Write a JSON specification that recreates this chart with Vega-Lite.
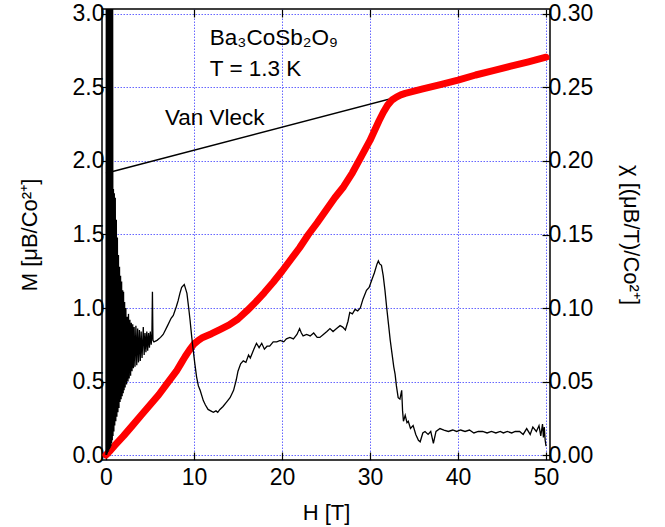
{
  "$schema": "https://vega.github.io/schema/vega-lite/v6.json",
  "width": 448,
  "height": 451,
  "autosize": "none",
  "padding": {"left": 102, "top": 9, "right": 115, "bottom": 67},
  "background": "white",
  "config": {
    "font": "Liberation Sans",
    "view": {"stroke": "black", "strokeWidth": 1.5},
    "axis": {
      "labelFont": "Liberation Sans",
      "labelFontSize": 23,
      "labelColor": "black",
      "titleFont": "Liberation Sans",
      "titleFontSize": 22,
      "titleFontWeight": "normal",
      "titleColor": "black",
      "tickColor": "black",
      "tickWidth": 1.2,
      "domain": false,
      "gridColor": "#6666ff",
      "gridDash": [1.5, 1.5],
      "gridWidth": 1,
      "gridOpacity": 1
    }
  },
  "datasets": {
    "mag": [
      {"H": 0, "M": 0}, {"H": 0.5, "M": 0.03}, {"H": 1, "M": 0.065}, {"H": 2, "M": 0.13},
      {"H": 3, "M": 0.2}, {"H": 4, "M": 0.27}, {"H": 5, "M": 0.34}, {"H": 6, "M": 0.41},
      {"H": 7, "M": 0.49}, {"H": 8, "M": 0.57}, {"H": 8.5, "M": 0.62}, {"H": 9, "M": 0.67},
      {"H": 9.5, "M": 0.715}, {"H": 10, "M": 0.755}, {"H": 10.5, "M": 0.78}, {"H": 11, "M": 0.8},
      {"H": 12, "M": 0.825}, {"H": 13, "M": 0.855}, {"H": 14, "M": 0.885}, {"H": 15, "M": 0.925},
      {"H": 16, "M": 0.98}, {"H": 17, "M": 1.04}, {"H": 18, "M": 1.105}, {"H": 19, "M": 1.175},
      {"H": 20, "M": 1.25}, {"H": 21, "M": 1.33}, {"H": 22, "M": 1.41}, {"H": 23, "M": 1.5},
      {"H": 24, "M": 1.58}, {"H": 25, "M": 1.665}, {"H": 26, "M": 1.75}, {"H": 27, "M": 1.825},
      {"H": 28, "M": 1.92}, {"H": 29, "M": 2.03}, {"H": 30, "M": 2.14}, {"H": 31, "M": 2.27},
      {"H": 31.5, "M": 2.33}, {"H": 32, "M": 2.38}, {"H": 32.5, "M": 2.415}, {"H": 33, "M": 2.435},
      {"H": 33.5, "M": 2.45}, {"H": 34, "M": 2.46}, {"H": 35, "M": 2.475}, {"H": 36, "M": 2.49},
      {"H": 38, "M": 2.52}, {"H": 40, "M": 2.55}, {"H": 42, "M": 2.585}, {"H": 44, "M": 2.615},
      {"H": 46, "M": 2.645}, {"H": 48, "M": 2.675}, {"H": 50, "M": 2.706}
    ],
    "vanvleck": [{"H": 0, "M": 1.917}, {"H": 50, "M": 2.7}],
    "labels": [
      {"H": 11.8, "M": 2.788, "text": "Ba₃CoSb₂O₉"},
      {"H": 11.8, "M": 2.577, "text": "T = 1.3 K"},
      {"H": 6.7, "M": 2.243, "text": "Van Vleck"}
    ],
    "chi": [
      {"H": 0, "chi": 0}, {"H": 0.04, "chi": 0.31}, {"H": 0.08, "chi": 0}, {"H": 0.12, "chi": 0.31},
      {"H": 0.16, "chi": 0.001}, {"H": 0.2, "chi": 0.31}, {"H": 0.24, "chi": 0.002}, {"H": 0.28, "chi": 0.31},
      {"H": 0.32, "chi": 0.003}, {"H": 0.36, "chi": 0.31}, {"H": 0.4, "chi": 0.004}, {"H": 0.44, "chi": 0.31},
      {"H": 0.48, "chi": 0.005}, {"H": 0.52, "chi": 0.31}, {"H": 0.56, "chi": 0.006}, {"H": 0.6, "chi": 0.31},
      {"H": 0.64, "chi": 0.008}, {"H": 0.68, "chi": 0.31}, {"H": 0.72, "chi": 0.01}, {"H": 0.76, "chi": 0.31},
      {"H": 0.8, "chi": 0.013}, {"H": 0.85, "chi": 0.181}, {"H": 0.9, "chi": 0.016}, {"H": 0.95, "chi": 0.178},
      {"H": 1.0, "chi": 0.02}, {"H": 1.06, "chi": 0.175}, {"H": 1.12, "chi": 0.023}, {"H": 1.18, "chi": 0.16},
      {"H": 1.24, "chi": 0.026}, {"H": 1.3, "chi": 0.148}, {"H": 1.36, "chi": 0.029}, {"H": 1.42, "chi": 0.136},
      {"H": 1.48, "chi": 0.032}, {"H": 1.54, "chi": 0.128}, {"H": 1.6, "chi": 0.036}, {"H": 1.66, "chi": 0.122},
      {"H": 1.72, "chi": 0.038}, {"H": 1.78, "chi": 0.118}, {"H": 1.84, "chi": 0.04}, {"H": 1.9, "chi": 0.112},
      {"H": 1.96, "chi": 0.042}, {"H": 2.0, "chi": 0.111}, {"H": 2.06, "chi": 0.044}, {"H": 2.12, "chi": 0.104},
      {"H": 2.18, "chi": 0.046}, {"H": 2.26, "chi": 0.1}, {"H": 2.34, "chi": 0.048}, {"H": 2.42, "chi": 0.094},
      {"H": 2.5, "chi": 0.05}, {"H": 2.56, "chi": 0.096}, {"H": 2.64, "chi": 0.052}, {"H": 2.72, "chi": 0.092},
      {"H": 2.8, "chi": 0.054}, {"H": 2.88, "chi": 0.09}, {"H": 2.96, "chi": 0.057}, {"H": 3.04, "chi": 0.089},
      {"H": 3.12, "chi": 0.059}, {"H": 3.2, "chi": 0.087}, {"H": 3.3, "chi": 0.06}, {"H": 3.4, "chi": 0.088},
      {"H": 3.5, "chi": 0.061}, {"H": 3.6, "chi": 0.086}, {"H": 3.7, "chi": 0.063}, {"H": 3.8, "chi": 0.085},
      {"H": 3.9, "chi": 0.064}, {"H": 4.0, "chi": 0.084}, {"H": 4.1, "chi": 0.066}, {"H": 4.24, "chi": 0.087},
      {"H": 4.34, "chi": 0.068}, {"H": 4.44, "chi": 0.083}, {"H": 4.54, "chi": 0.07}, {"H": 4.64, "chi": 0.084},
      {"H": 4.74, "chi": 0.071}, {"H": 4.84, "chi": 0.083}, {"H": 4.94, "chi": 0.073}, {"H": 5.04, "chi": 0.084},
      {"H": 5.14, "chi": 0.075}, {"H": 5.22, "chi": 0.082}, {"H": 5.28, "chi": 0.111}, {"H": 5.34, "chi": 0.078},
      {"H": 5.45, "chi": 0.077}, {"H": 5.8, "chi": 0.078}, {"H": 6.2, "chi": 0.08}, {"H": 6.5, "chi": 0.082},
      {"H": 7.0, "chi": 0.088}, {"H": 7.4, "chi": 0.093}, {"H": 7.65, "chi": 0.095}, {"H": 8.0, "chi": 0.101},
      {"H": 8.2, "chi": 0.105}, {"H": 8.4, "chi": 0.11}, {"H": 8.6, "chi": 0.114}, {"H": 8.9, "chi": 0.116},
      {"H": 9.05, "chi": 0.113}, {"H": 9.2, "chi": 0.11}, {"H": 9.4, "chi": 0.1}, {"H": 9.55, "chi": 0.092},
      {"H": 9.75, "chi": 0.08}, {"H": 9.9, "chi": 0.072}, {"H": 10.1, "chi": 0.062}, {"H": 10.3, "chi": 0.053},
      {"H": 10.5, "chi": 0.047}, {"H": 10.7, "chi": 0.044}, {"H": 11.06, "chi": 0.037}, {"H": 11.3, "chi": 0.034},
      {"H": 11.6, "chi": 0.031}, {"H": 11.9, "chi": 0.03}, {"H": 12.2, "chi": 0.029}, {"H": 12.5, "chi": 0.03},
      {"H": 12.7, "chi": 0.029}, {"H": 12.95, "chi": 0.031}, {"H": 13.3, "chi": 0.033}, {"H": 13.7, "chi": 0.036},
      {"H": 14.1, "chi": 0.039}, {"H": 14.5, "chi": 0.044}, {"H": 14.8, "chi": 0.051}, {"H": 15.0, "chi": 0.057},
      {"H": 15.3, "chi": 0.062}, {"H": 15.6, "chi": 0.064}, {"H": 15.9, "chi": 0.063}, {"H": 16.2, "chi": 0.068},
      {"H": 16.4, "chi": 0.066}, {"H": 16.8, "chi": 0.072}, {"H": 17.1, "chi": 0.076}, {"H": 17.4, "chi": 0.073},
      {"H": 17.7, "chi": 0.076}, {"H": 18.0, "chi": 0.072}, {"H": 18.3, "chi": 0.074}, {"H": 18.6, "chi": 0.074},
      {"H": 19.0, "chi": 0.077}, {"H": 19.4, "chi": 0.077}, {"H": 19.8, "chi": 0.078}, {"H": 20.2, "chi": 0.077},
      {"H": 20.5, "chi": 0.079}, {"H": 20.9, "chi": 0.08}, {"H": 21.3, "chi": 0.079}, {"H": 21.7, "chi": 0.082},
      {"H": 22.0, "chi": 0.086}, {"H": 22.2, "chi": 0.083}, {"H": 22.4, "chi": 0.081}, {"H": 22.8, "chi": 0.082},
      {"H": 23.2, "chi": 0.081}, {"H": 23.6, "chi": 0.083}, {"H": 24.0, "chi": 0.08}, {"H": 24.3, "chi": 0.08},
      {"H": 24.7, "chi": 0.082}, {"H": 25.1, "chi": 0.084}, {"H": 25.45, "chi": 0.086}, {"H": 25.8, "chi": 0.084},
      {"H": 26.2, "chi": 0.086}, {"H": 26.6, "chi": 0.088}, {"H": 26.9, "chi": 0.087}, {"H": 27.2, "chi": 0.085},
      {"H": 27.5, "chi": 0.091}, {"H": 27.7, "chi": 0.097}, {"H": 28.0, "chi": 0.096}, {"H": 28.3, "chi": 0.099},
      {"H": 28.6, "chi": 0.098}, {"H": 28.9, "chi": 0.1}, {"H": 29.2, "chi": 0.106}, {"H": 29.6, "chi": 0.112},
      {"H": 29.9, "chi": 0.114}, {"H": 30.2, "chi": 0.119}, {"H": 30.5, "chi": 0.124}, {"H": 30.8, "chi": 0.13},
      {"H": 30.95, "chi": 0.132}, {"H": 31.1, "chi": 0.13}, {"H": 31.3, "chi": 0.129}, {"H": 31.5, "chi": 0.122},
      {"H": 31.7, "chi": 0.112}, {"H": 31.9, "chi": 0.1}, {"H": 32.1, "chi": 0.089}, {"H": 32.3, "chi": 0.078},
      {"H": 32.5, "chi": 0.069}, {"H": 32.7, "chi": 0.06}, {"H": 32.85, "chi": 0.055}, {"H": 33.0, "chi": 0.047},
      {"H": 33.2, "chi": 0.039}, {"H": 33.4, "chi": 0.038}, {"H": 33.6, "chi": 0.044}, {"H": 33.7, "chi": 0.03},
      {"H": 33.8, "chi": 0.023}, {"H": 34.0, "chi": 0.027}, {"H": 34.2, "chi": 0.022}, {"H": 34.35, "chi": 0.023},
      {"H": 34.6, "chi": 0.018}, {"H": 34.9, "chi": 0.02}, {"H": 35.2, "chi": 0.014}, {"H": 35.5, "chi": 0.01},
      {"H": 35.7, "chi": 0.009}, {"H": 36.0, "chi": 0.015}, {"H": 36.25, "chi": 0.016}, {"H": 36.6, "chi": 0.014},
      {"H": 36.9, "chi": 0.016}, {"H": 37.2, "chi": 0.008}, {"H": 37.5, "chi": 0.016}, {"H": 37.95, "chi": 0.018},
      {"H": 38.4, "chi": 0.017}, {"H": 38.9, "chi": 0.016}, {"H": 39.4, "chi": 0.017}, {"H": 39.85, "chi": 0.016},
      {"H": 40.3, "chi": 0.017}, {"H": 40.8, "chi": 0.016}, {"H": 41.3, "chi": 0.017}, {"H": 41.8, "chi": 0.015},
      {"H": 42.3, "chi": 0.016}, {"H": 42.8, "chi": 0.016}, {"H": 43.3, "chi": 0.015}, {"H": 43.8, "chi": 0.016},
      {"H": 44.3, "chi": 0.015}, {"H": 44.8, "chi": 0.016}, {"H": 45.15, "chi": 0.015}, {"H": 45.6, "chi": 0.016},
      {"H": 46.1, "chi": 0.015}, {"H": 46.5, "chi": 0.016}, {"H": 47.0, "chi": 0.016}, {"H": 47.4, "chi": 0.014},
      {"H": 47.8, "chi": 0.018}, {"H": 48.2, "chi": 0.014}, {"H": 48.5, "chi": 0.019}, {"H": 48.9, "chi": 0.016},
      {"H": 49.2, "chi": 0.02}, {"H": 49.4, "chi": 0.013}, {"H": 49.6, "chi": 0.021}, {"H": 49.7, "chi": 0.012},
      {"H": 49.8, "chi": 0.019}, {"H": 49.9, "chi": 0.01}, {"H": 50.0, "chi": 0.006}
    ]
  },
  "layer": [
    {
      "encoding": {
        "x": {
          "field": "H", "type": "quantitative",
          "scale": {"domain": [-0.45, 50.45], "nice": false, "zero": false},
          "axis": {
            "orient": "bottom", "values": [0, 10, 20, 30, 40, 50], "format": "d",
            "grid": true, "tickSize": -8, "labelPadding": 14,
            "title": "H [T]", "titlePadding": 13
          }
        },
        "y": {
          "field": "M", "type": "quantitative",
          "scale": {"domain": [-0.034, 3.034], "nice": false, "zero": false},
          "axis": {
            "orient": "left", "values": [0, 0.5, 1, 1.5, 2, 2.5, 3], "format": ".1f",
            "grid": true, "tickSize": -8, "labelPadding": 6,
            "title": "M [μB/Co²⁺]", "titlePadding": 31
          }
        }
      },
      "layer": [
        {
          "data": {"name": "vanvleck"},
          "mark": {"type": "line", "color": "black", "strokeWidth": 1.5}
        },
        {
          "data": {"name": "mag"},
          "mark": {"type": "line", "color": "#ff0000", "strokeWidth": 7, "strokeCap": "round", "strokeJoin": "round"}
        },
        {
          "data": {"name": "labels"},
          "mark": {"type": "text", "align": "left", "baseline": "alphabetic", "fontSize": 22.5, "font": "Liberation Sans", "color": "black"},
          "encoding": {
            "text": {"field": "text"}
          }
        }
      ]
    },
    {
      "data": {"name": "chi"},
      "mark": {"type": "line", "color": "black", "strokeWidth": 1.3, "clip": true},
      "encoding": {
        "x": {
          "field": "H", "type": "quantitative",
          "scale": {"domain": [-0.45, 50.45], "nice": false, "zero": false},
          "axis": {"orient": "top", "values": [0, 10, 20, 30, 40, 50], "labels": false, "grid": false, "tickSize": -8, "title": null}
        },
        "y": {
          "field": "chi", "type": "quantitative",
          "scale": {"domain": [-0.0034, 0.3034], "nice": false, "zero": false},
          "axis": {
            "orient": "right", "values": [0, 0.05, 0.1, 0.15, 0.2, 0.25, 0.3], "format": ".2f",
            "grid": false, "tickSize": -8, "labelPadding": 6,
            "title": "χ [(μB/T)/Co²⁺]", "titlePadding": 26
          }
        }
      }
    }
  ],
  "resolve": {"scale": {"y": "independent"}, "axis": {"x": "independent"}}
}
